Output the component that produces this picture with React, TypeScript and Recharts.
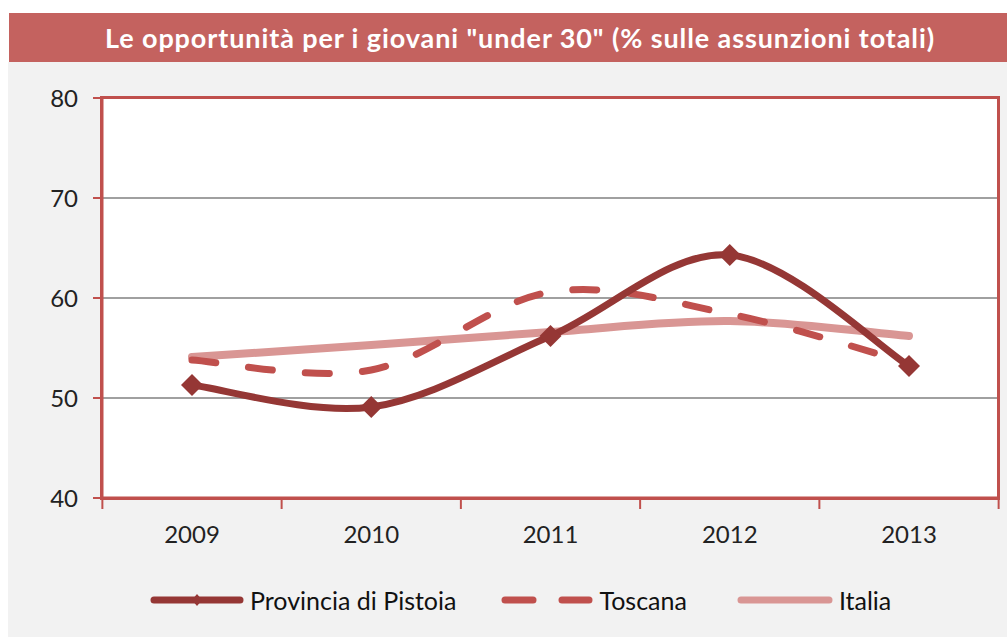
import { LineChart, Line, XAxis, YAxis, CartesianGrid } from 'recharts'

const years = ['2009', '2010', '2011', '2012', '2013']
const pistoia = [51.3, 49.1, 56.2, 64.3, 53.2]
const toscana = [53.8, 52.8, 60.6, 58.4, 53.5]
const italia = [54.1, 55.3, 56.6, 57.7, 56.2]
const yTicks = [40, 50, 60, 70, 80]

const TITLE = 'Le opportunità per i giovani "under 30" (% sulle assunzioni totali)'
const FONT = 'Lato, "Noto Sans", sans-serif'
const RED = '#c0504d'
const DARK = '#953735'
const PINK = '#d99694'

const W = 1007
const H = 637
const MARGIN = { top: 98, right: 8, left: 42, bottom: 99 }
const Y_WIDTH = 60
const X_PAD = 90
const TICK_GAP = 28
const plotW = W - MARGIN.left - MARGIN.right - Y_WIDTH
const halfStep = (plotW - 2 * X_PAD) / (years.length - 1) / 2

const data = years.map((year, i) => ({
  year,
  pistoia: pistoia[i],
  toscana: toscana[i],
  italia: italia[i],
}))

// Excel-style smoothed line (Catmull-Rom through every point)
function excelSmooth(context: any) {
  let pts: number[][] = []
  return {
    areaStart() {},
    areaEnd() {},
    lineStart() {
      pts = []
    },
    point(x: number, y: number) {
      pts.push([+x, +y])
    },
    lineEnd() {
      const n = pts.length
      if (!n) return
      context.moveTo(pts[0][0], pts[0][1])
      for (let i = 0; i < n - 1; i++) {
        const p0 = pts[Math.max(0, i - 1)]
        const p1 = pts[i]
        const p2 = pts[i + 1]
        const p3 = pts[Math.min(n - 1, i + 2)]
        context.bezierCurveTo(
          p1[0] + (p2[0] - p0[0]) / 6,
          p1[1] + (p2[1] - p0[1]) / 6,
          p2[0] - (p3[0] - p1[0]) / 6,
          p2[1] - (p3[1] - p1[1]) / 6,
          p2[0],
          p2[1]
        )
      }
    },
  }
}

const Diamond = (props: any) => {
  const { cx, cy } = props
  if (cx == null || cy == null) return null
  const r = 11
  return <path d={`M${cx},${cy - r}L${cx + r},${cy}L${cx},${cy + r}L${cx - r},${cy}Z`} fill={DARK} />
}

// year label, with Excel's tick marks between categories
const YearTick = (props: any) => {
  const { x, y, payload, index } = props
  const axisY = y - TICK_GAP
  const last = index === years.length - 1
  return (
    <g>
      <line x1={x - halfStep} y1={axisY} x2={x - halfStep} y2={axisY + 11} stroke={RED} strokeWidth={2} />
      {last && <line x1={x + halfStep} y1={axisY} x2={x + halfStep} y2={axisY + 11} stroke={RED} strokeWidth={2} />}
      <text x={x} y={y} dy="0.71em" textAnchor="middle" fontFamily={FONT} fontSize={24} fill="#222">
        {payload.value}
      </text>
    </g>
  )
}

const legendText = { fontFamily: FONT, fontSize: 25, color: '#111', marginLeft: 6 }

export default function App() {
  return (
    <div style={{ position: 'absolute', left: 0, top: 0, width: W, height: H, background: '#fff' }}>
      <div style={{ position: 'absolute', left: 8, top: 62, right: 0, bottom: 0, background: '#f2f2f2' }} />
      <div
        style={{
          position: 'absolute', left: 9, top: 13, right: 0, height: 49, background: '#c4625f',
          color: '#fff', fontFamily: FONT, fontWeight: 700, fontSize: 27, letterSpacing: 0.9,
          lineHeight: '49px', textAlign: 'center', paddingLeft: 24, boxSizing: 'border-box',
        }}
      >
        {TITLE}
      </div>
      <div style={{ position: 'absolute', left: 0, top: 0 }}>
        <LineChart width={W} height={H} data={data} margin={MARGIN}>
          <CartesianGrid vertical={false} stroke="#a0a0a0" strokeWidth={2} fill="#fff" />
          <XAxis
            dataKey="year"
            padding={{ left: X_PAD, right: X_PAD }}
            axisLine={{ stroke: RED, strokeWidth: 3 }}
            tickLine={false}
            tickSize={0}
            tickMargin={TICK_GAP}
            height={40}
            interval={0}
            tick={<YearTick />}
          />
          <YAxis
            domain={[40, 80]}
            ticks={yTicks}
            width={Y_WIDTH}
            axisLine={{ stroke: RED, strokeWidth: 3 }}
            tickLine={{ stroke: RED, strokeWidth: 2 }}
            tickSize={9}
            tickMargin={15}
            tick={{ fontFamily: FONT, fontSize: 24, fill: '#222' }}
          />
          <Line
            dataKey="italia"
            type={excelSmooth as any}
            stroke={PINK}
            strokeWidth={8}
            strokeLinecap="round"
            dot={false}
            isAnimationActive={false}
          />
          <Line
            dataKey="toscana"
            type={excelSmooth as any}
            stroke={RED}
            strokeWidth={7}
            strokeDasharray="24 33"
            strokeLinecap="round"
            dot={false}
            isAnimationActive={false}
          />
          <Line
            dataKey="pistoia"
            type={excelSmooth as any}
            stroke={DARK}
            strokeWidth={7}
            dot={<Diamond />}
            isAnimationActive={false}
          />
        </LineChart>
      </div>
      <div
        style={{
          position: 'absolute', left: 100, top: 96, width: 900, height: 404,
          border: `3px solid ${RED}`, boxSizing: 'border-box', pointerEvents: 'none',
        }}
      />
      <div style={{ position: 'absolute', left: 150, top: 585, height: 30, display: 'flex', alignItems: 'center' }}>
        <svg width={94} height={16}>
          <line x1={4} y1={8} x2={90} y2={8} stroke={DARK} strokeWidth={7} strokeLinecap="round" />
          <path d="M47,2L52,8L47,14L42,8Z" fill={DARK} />
        </svg>
        <span style={legendText}>Provincia di Pistoia</span>
        <svg width={92} height={16} style={{ marginLeft: 45 }}>
          <line x1={4} y1={8} x2={32} y2={8} stroke={RED} strokeWidth={7} strokeLinecap="round" />
          <line x1={61} y1={8} x2={88} y2={8} stroke={RED} strokeWidth={7} strokeLinecap="round" />
        </svg>
        <span style={legendText}>Toscana</span>
        <svg width={96} height={16} style={{ marginLeft: 50 }}>
          <line x1={4} y1={8} x2={92} y2={8} stroke={PINK} strokeWidth={7} strokeLinecap="round" />
        </svg>
        <span style={legendText}>Italia</span>
      </div>
    </div>
  )
}
